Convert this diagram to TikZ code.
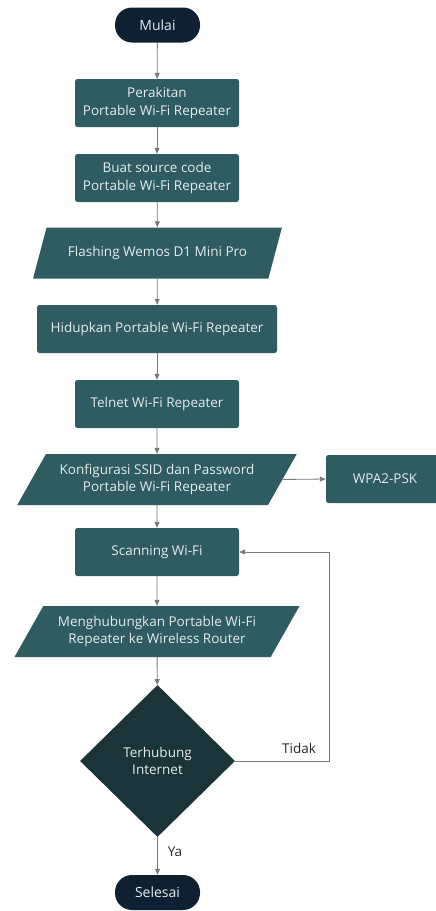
\documentclass[tikz,border=0pt]{standalone}
\usepackage{fontspec}
\setmainfont{Open Sans}
\usetikzlibrary{shapes.geometric,arrows.meta}
\definecolor{teal}{HTML}{2E5C61}
\definecolor{deep}{HTML}{1B343A}
\definecolor{navy}{HTML}{0F2033}
\definecolor{txt}{HTML}{E2ECEB}
\definecolor{ln}{HTML}{7A7A7A}
\begin{document}
\begin{tikzpicture}[x=1pt,y=-1pt,
  base/.style={text=txt,align=center,font=\fontsize{13.5}{17.5}\selectfont,inner sep=0pt},
  proc/.style={base,fill=teal,rounded corners=2.5pt,minimum width=164pt,minimum height=48pt},
  wide/.style={proc,minimum width=240pt},
  io/.style={base,fill=teal,trapezium,trapezium left angle=51,trapezium right angle=129,trapezium stretches=true,minimum height=51pt},
  term/.style={base,fill=navy,rounded corners=17pt,minimum width=85pt,minimum height=35pt,font=\fontsize{14}{17}\selectfont},
  dec/.style={base,fill=deep,diamond,minimum width=155pt,minimum height=152pt},
  arr/.style={draw=ln,line width=0.8pt,-{Triangle[length=6pt,width=5pt]}},
  lab/.style={font=\fontsize{13.5}{16}\selectfont,text=black!85,inner sep=0pt}]
\useasboundingbox (0,0) rectangle (436,911);
\begin{scope}
\clip (0,0) rectangle (436,911);
\node[term] (mulai) at (157.5,25) {Mulai};
\node[proc] (rakit) at (157,103) {Perakitan\\Portable Wi-Fi Repeater};
\node[proc] (buat) at (157,178) {Buat source code\\Portable Wi-Fi Repeater};
\node[io,minimum width=249pt] (flash) at (157.5,253) {Flashing Wemos D1 Mini Pro};
\node[wide] (hidup) at (157,329) {Hidupkan Portable Wi-Fi Repeater};
\node[proc] (telnet) at (157,404) {Telnet Wi-Fi Repeater};
\node[io,minimum width=280pt] (konf) at (157,479.5) {Konfigurasi SSID dan Password\\Portable Wi-Fi Repeater};
\node[proc,minimum width=118pt] (wpa) at (385,479) {WPA2-PSK};
\node[proc] (scan) at (157,552) {Scanning Wi-Fi};
\node[io,minimum width=286pt] (hub) at (157,631.5) {Menghubungkan Portable Wi-Fi\\Repeater ke Wireless Router};
\node[dec] (cek) at (157.5,761) {Terhubung\\Internet};
\node[term] (selesai) at (157.5,892.5) {Selesai};
\coordinate (loop) at (329,761);
\draw[arr] (mulai) -- (rakit);
\draw[arr] (rakit) -- (buat);
\draw[arr] (buat) -- (flash);
\draw[arr] (flash) -- (hidup);
\draw[arr] (hidup) -- (telnet);
\draw[arr] (telnet) -- (konf);
\draw[arr] (konf.east) -- (wpa.west);
\draw[arr] (konf) -- (scan);
\draw[arr] (scan) -- (hub);
\draw[arr] (hub) -- (cek);
\draw[arr] (cek.east) -- (loop) |- (scan.east);
\draw[arr] (cek.south) -- (selesai.north);
\node[lab] (tidak) at (299,748) {Tidak};
\node[lab] (ya) at (175,852) {Ya};
\end{scope}
\end{tikzpicture}
\end{document}
